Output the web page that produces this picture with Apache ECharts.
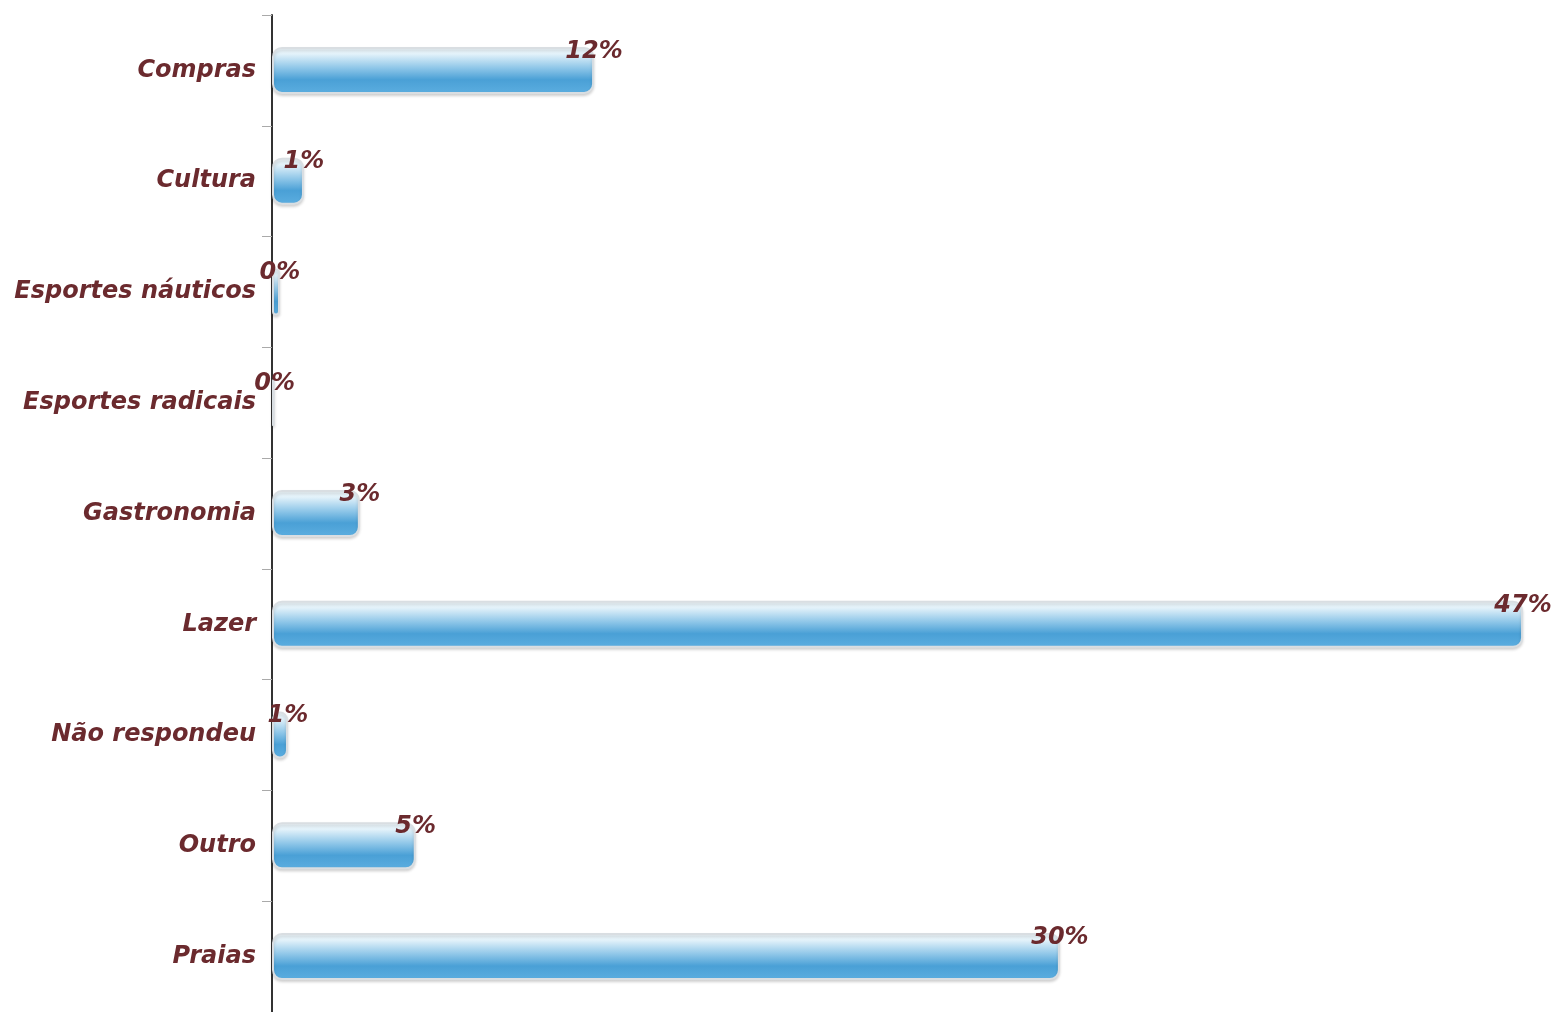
<!DOCTYPE html>
<html>
<head>
<meta charset="utf-8">
<script src="https://cdn.jsdelivr.net/npm/echarts@6/dist/echarts.min.js"></script>
<style>
html,body{margin:0;padding:0;background:#fff;}
#chart{width:1555px;height:1012px;}
</style>
</head>
<body>
<div id="chart"></div>
<script>
const categories = ["Compras", "Cultura", "Esportes náuticos", "Esportes radicais", "Gastronomia", "Lazer", "Não respondeu", "Outro", "Praias"];
const values = [12.1, 1.2, 0.3, 0.1, 3.3, 47.0, 0.6, 5.4, 29.6];

const chart = echarts.init(document.getElementById('chart'));
const textColor = '#6b2a2e';
chart.setOption({
  animation: false,
  backgroundColor: '#ffffff',
  grid: { left: 272, top: 15, right: 0, bottom: 0 },
  xAxis: { type: 'value', min: 0, max: 48.2, show: false },
  yAxis: {
    type: 'category',
    data: categories,
    inverse: true,
    axisLine: { show: true, lineStyle: { color: '#333', width: 2 } },
    axisTick: { show: true, length: 10, lineStyle: { color: '#aaa', width: 1 } },
    axisLabel: {
      color: textColor, fontSize: 24, fontStyle: 'italic', fontWeight: 'bold',
      fontFamily: 'DejaVu Sans', margin: 16
    },
    splitLine: { show: false }
  },
  series: [{
    type: 'bar',
    data: values,
    barWidth: 47,
    itemStyle: {
      borderRadius: 9,
      borderColor: '#d9dee2',
      borderWidth: 2,
      shadowColor: 'rgba(0,0,0,0.15)',
      shadowBlur: 3,
      shadowOffsetY: 2,
      color: new echarts.graphic.LinearGradient(0, 0, 0, 1, [
        { offset: 0, color: '#f2fafd' },
        { offset: 0.15, color: '#e3f2fa' },
        { offset: 0.45, color: '#8ec6e8' },
        { offset: 0.7, color: '#4aa0d6' },
        { offset: 1, color: '#5caee0' }
      ])
    },
    label: {
      show: true,
      position: 'right',
      distance: 0,
      align: 'center',
      offset: [0, -19],
      color: textColor,
      fontSize: 24,
      fontStyle: 'italic',
      fontWeight: 'bold',
      fontFamily: 'DejaVu Sans',
      formatter: p => Math.round(p.value) + '%'
    }
  }]
});
</script>
</body>
</html>
